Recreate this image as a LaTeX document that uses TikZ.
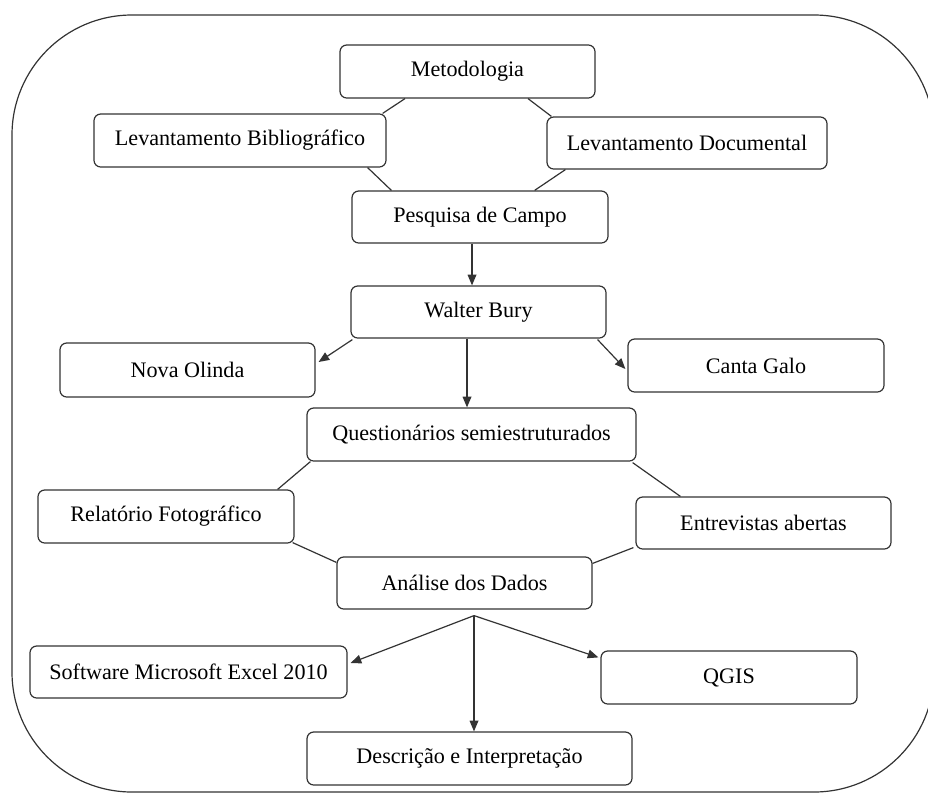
\documentclass[tikz,border=0pt]{standalone}
\usepackage{fontspec}
\setmainfont{Liberation Serif}
\usetikzlibrary{arrows.meta,calc}
\begin{document}
\begin{tikzpicture}[x=0.75pt,y=-0.75pt,
  box/.style={draw=black!80, line width=0.9pt, rounded corners=5pt, fill=white,
    align=center, inner sep=0pt, font=\fontsize{16.6}{20}\selectfont},
  conn/.style={draw=black!80, line width=0.9pt},
  arr/.style={conn, -{Triangle[length=8pt,width=6.5pt]}},
  frame/.style={draw=black!80, line width=0.9pt, rounded corners=90pt}]
\useasboundingbox (0,0) rectangle (928,793);
\begin{scope}
\clip (0,0) rectangle (928,793);
\draw[frame] (12,15) rectangle (934,792);
\end{scope}

\node[box, minimum width=191.25pt, minimum height=39.75pt] (met) at (467.5,71.5) {Metodologia};
\node[box, minimum width=219pt, minimum height=39.75pt] (bib) at (240,140.5) {Levantamento Bibliográfico};
\node[box, minimum width=210pt, minimum height=39pt] (doc) at (687,143) {Levantamento Documental};
\node[box, minimum width=192pt, minimum height=39pt] (pes) at (480,217) {Pesquisa de Campo};
\node[box, minimum width=191.25pt, minimum height=39pt] (wal) at (478.5,312) {Walter Bury};
\node[box, minimum width=191.25pt, minimum height=40.5pt] (nov) at (187.5,370) {Nova Olinda};
\node[box, minimum width=192pt, minimum height=39.75pt] (can) at (756,365.5) {Canta Galo};
\node[box, minimum width=246.75pt, minimum height=39.75pt] (que) at (471.5,434.5) {Questionários semiestruturados};
\node[box, minimum width=192pt, minimum height=39.75pt] (rel) at (166,516.5) {Relatório Fotográfico};
\node[box, minimum width=191.25pt, minimum height=39pt] (ent) at (763.5,523) {Entrevistas abertas};
\node[box, minimum width=191.25pt, minimum height=39pt] (ana) at (464.5,583) {Análise dos Dados};
\node[box, minimum width=237.75pt, minimum height=39pt] (exc) at (188.5,672) {Software Microsoft Excel 2010};
\node[box, minimum width=192pt, minimum height=39.75pt] (qgi) at (729,677.5) {QGIS};
\node[box, minimum width=243.75pt, minimum height=39.75pt] (des) at (469.5,758.5) {Descrição e Interpretação};

\draw[conn] ($(met.south)+(-62.5,0)$) -- ($(bib.north east)+(-4,0)$);
\draw[conn] ($(met.south)+(60.5,0)$) -- ($(doc.north west)+(5,0)$);
\draw[conn] ($(bib.south east)+(-19,0)$) -- ($(pes.north west)+(40,0)$);
\draw[conn] ($(doc.south west)+(19,0)$) -- ($(pes.north east)+(-74,0)$);
\draw[arr] ($(pes.south)+(-8,0)$) -- ($(wal.north)+(-6.5,0)$);
\draw[arr] ($(wal.south west)+(2,1)$) -- ($(nov.east)+(3,-8)$);
\draw[arr] ($(wal.south)+(-11.5,0)$) -- ($(que.north)+(-4.5,0)$);
\draw[arr] ($(wal.south east)+(-9,1)$) -- ($(can.west)+(-2,3.5)$);
\draw[conn] ($(que.south west)+(4,0)$) -- ($(rel.north east)+(-17,0)$);
\draw[conn] ($(que.south east)+(-4,1)$) -- ($(ent.north west)+(45,0)$);
\draw[conn] ($(rel.south east)+(-2,-1)$) -- ($(ana.north west)+(0,6)$);
\draw[conn] ($(ent.south west)+(-2,-2)$) -- ($(ana.north east)+(0,7)$);
\coordinate (sp) at ($(ana.south)+(9.5,6)$);
\draw[arr] (sp) -- ($(exc.east)+(3,-9)$);
\draw[arr] (sp) -- ($(qgi.north west)+(-2,7)$);
\draw[arr] (sp) -- ($(des.north)+(4.5,0)$);
\end{tikzpicture}
\end{document}
